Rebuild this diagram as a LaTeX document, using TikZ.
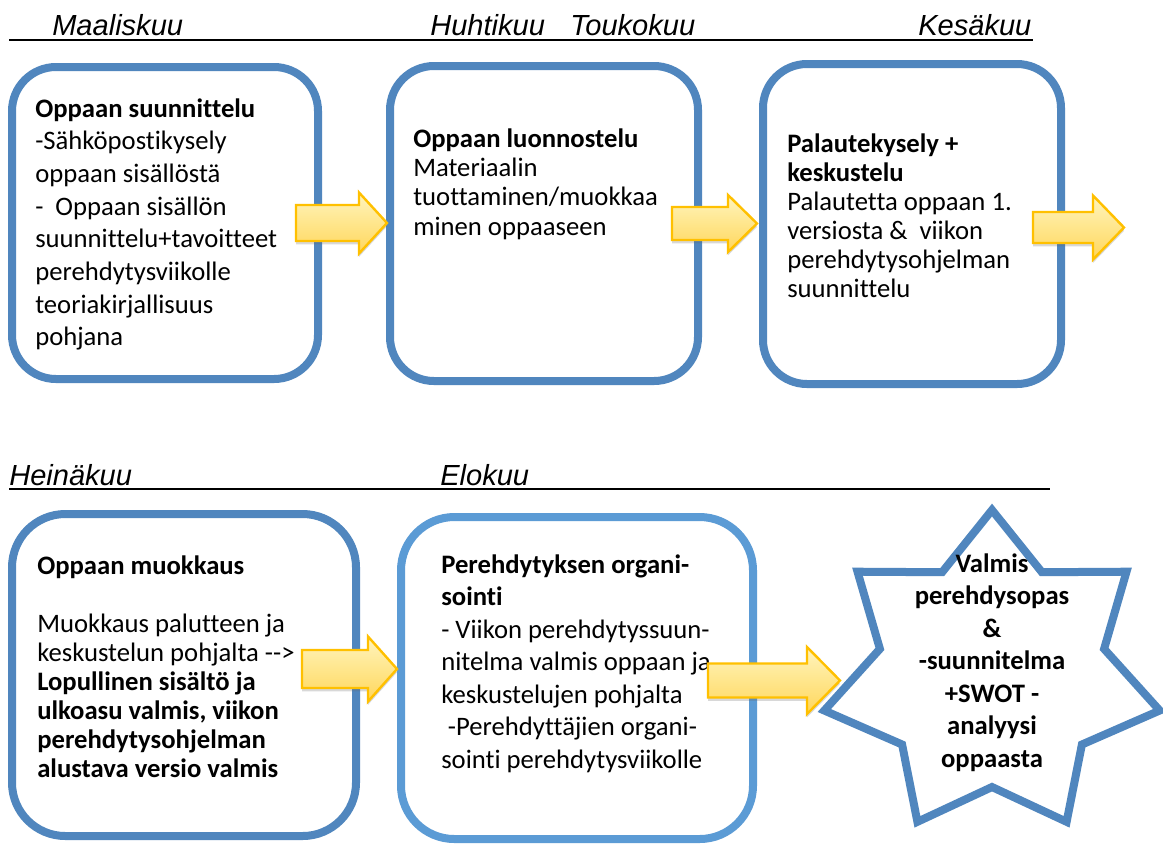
\documentclass[tikz,border=0pt]{standalone}
\usepackage{fontspec}
\setmainfont{Carlito}[Ligatures={NoCommon}]
\newfontfamily\monthfont{Liberation Sans}
\usetikzlibrary{shadows}
\definecolor{boxblue}{RGB}{80,134,190}
\definecolor{boxblueL}{RGB}{91,155,213}
\definecolor{arrTop}{RGB}{255,244,190}
\definecolor{arrMid}{RGB}{255,230,140}
\definecolor{arrBot}{RGB}{255,214,92}
\definecolor{arrEdge}{RGB}{255,192,0}
\tikzset{
  boxline/.style={draw=boxblue, line width=6pt, rounded corners=33pt},
  boxlineL/.style={draw=boxblueL, line width=6pt, rounded corners=40pt},
  starline/.style={draw=boxblue, line width=6pt, line join=miter},
  arrowshape/.style={draw=arrEdge, line width=1.8pt, top color=arrTop, bottom color=arrBot, middle color=arrMid,
     drop shadow={shadow xshift=0pt, shadow yshift=-2.5pt, opacity=.25, fill=black!60}},
  month/.style={anchor=base west, inner sep=0pt, font=\monthfont\itshape\fontsize{21.8}{26}\selectfont},
  txt/.style={anchor=base west, inner sep=0pt},
  rule/.style={draw=black, line width=1.7pt}
}
\newcommand\blockarr[6]{%
  \path[arrowshape] (#1,{#4-#5}) -- (#2,{#4-#5}) -- (#2,{#4-#6}) -- (#3,#4) -- (#2,{#4+#6}) -- (#2,{#4+#5}) -- (#1,{#4+#5}) -- cycle;}
\begin{document}
\begin{tikzpicture}[x=0.75pt,y=-0.75pt]
\useasboundingbox[fill=white] (0,0) rectangle (1163,844);
% header rules
\draw[rule] (9,40) -- (1033,40);
\draw[rule] (9,489) -- (1050,489);
% months
\node[month] (m1) at (52,35) {Maaliskuu};
\node[month] (m2) at (430,35) {Huhtikuu};
\node[month] (m3) at (570,35) {Toukokuu};
\node[month] (m4) at (918,35) {Kesäkuu};
\node[month] (m5) at (9,485) {Heinäkuu};
\node[month] (m6) at (440,485) {Elokuu};
% boxes
\draw[boxline] (12,67) rectangle (318,379);
\draw[boxline] (390,66) rectangle (698,381);
\draw[boxline] (763,64) rectangle (1061,384);
\draw[boxlineL, draw=boxblue] (12,514) rectangle (356,836);
\draw[boxlineL] (401,517) rectangle (753,839);
% star
\draw[starline] (992,510) -- (942.1,572.2) -- (857.5,571.7) -- (879.9,648.9) -- (824.3,710.5) -- (902.1,744.5) -- (917.4,821.8) -- (992,787) -- (1066.6,821.8) -- (1081.9,744.5) -- (1159.7,710.5) -- (1104.1,648.9) -- (1126.5,571.7) -- (1041.9,572.2) -- cycle;
% texts
\node[txt] (t1) at (35,117) {\parbox[t]{400pt}{\raggedright\fontsize{20}{24.5}\selectfont
\textbf{Oppaan suunnittelu}\\
-Sähköpostikysely\\
oppaan sisällöstä\\
-\ \ Oppaan sisällön\\
suunnittelu+tavoitteet\\
perehdytysviikolle\\
teoriakirjallisuus\\
pohjana}};
\node[txt] (t2) at (413,147) {\parbox[t]{400pt}{\raggedright\fontsize{20}{22}\selectfont
\textbf{Oppaan luonnostelu}\\
Materiaalin\\
tuottaminen/muokkaa\\
minen oppaaseen}};
\node[txt] (t3) at (787,152) {\parbox[t]{400pt}{\raggedright\fontsize{20}{21.75}\selectfont
\textbf{Palautekysely +}\\
\textbf{keskustelu}\\
Palautetta oppaan 1.\\
versiosta \&\ \ viikon\\
perehdytysohjelman\\
suunnittelu}};
\node[txt] (t4) at (37,574) {\parbox[t]{400pt}{\raggedright\fontsize{20}{21.75}\selectfont
\textbf{Oppaan muokkaus}\\
\mbox{}\\
Muokkaus palutteen ja\\
keskustelun pohjalta -\kern0pt-\kern0pt>\\
\textbf{Lopullinen sisältö ja}\\
\textbf{ulkoasu valmis, viikon}\\
\textbf{perehdytysohjelman}\\
\textbf{alustava versio valmis}}};
\node[txt] (t5) at (441,573) {\parbox[t]{400pt}{\raggedright\fontsize{20}{24.4}\selectfont
\textbf{Perehdytyksen organi-}\\
\textbf{sointi}\\
- Viikon perehdytyssuun-\\
nitelma valmis oppaan ja\\
keskustelujen pohjalta\\
\hspace*{0.25em}-Perehdyttäjien organi-\\
sointi perehdytysviikolle}};
\node[anchor=base, inner sep=0pt] (t6) at (992,572) {\parbox[t]{200pt}{\centering\bfseries\fontsize{20}{24.4}\selectfont
Valmis\\
perehdysopas\\
\&\\
-suunnitelma\\
+SWOT -\\
analyysi\\
oppaasta}};
% block arrows
\blockarr{296}{359}{387}{223}{18}{30.5}
\blockarr{672}{728}{757}{223.5}{16.5}{28.5}
\blockarr{1033}{1093}{1124}{227.5}{15.5}{32}
\blockarr{302}{368}{397}{669}{19}{32.5}
\blockarr{708}{807}{840}{680.5}{17}{33.5}
\end{tikzpicture}
\end{document}
